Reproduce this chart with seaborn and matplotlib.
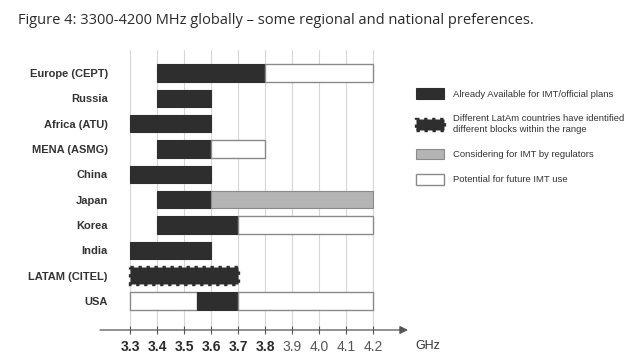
import matplotlib
matplotlib.use("Agg")
import matplotlib.pyplot as plt
from matplotlib.patches import Patch
import seaborn as sns
import pandas as pd

# ---- data ----
categories = ["Europe (CEPT)", "Russia", "Africa (ATU)", "MENA (ASMG)", "China",
              "Japan", "Korea", "India", "LATAM (CITEL)", "USA"]
seg_country = ["Europe (CEPT)", "Europe (CEPT)", "Russia", "Africa (ATU)", "MENA (ASMG)",
               "MENA (ASMG)", "China", "Japan", "Japan", "Korea", "Korea", "India",
               "LATAM (CITEL)", "USA", "USA", "USA"]
seg_start = [3.4, 3.8, 3.4, 3.3, 3.4, 3.6, 3.3, 3.4, 3.6, 3.4, 3.7, 3.3, 3.3, 3.3, 3.55, 3.7]
seg_end   = [3.8, 4.2, 3.6, 3.6, 3.6, 3.8, 3.6, 3.6, 4.2, 3.7, 4.2, 3.6, 3.7, 3.55, 3.7, 4.2]
seg_status = ["avail", "future", "avail", "avail", "avail", "future", "avail", "avail",
              "consider", "avail", "future", "avail", "latam", "future", "avail", "future"]
tick_values = [3.3, 3.4, 3.5, 3.6, 3.7, 3.8, 3.9, 4.0, 4.1, 4.2]
tick_labels = ["3.3", "3.4", "3.5", "3.6", "3.7", "3.8", "3.9", "4.0", "4.1", "4.2"]
bold_ticks = ["3.3", "3.4", "3.5", "3.6", "3.7", "3.8"]
legend_labels = {
    "avail": "Already Available for IMT/official plans",
    "latam": "Different LatAm countries have identified\ndifferent blocks within the range",
    "consider": "Considering for IMT by regulators",
    "future": "Potential for future IMT use",
}
title = "Figure 4: 3300-4200 MHz globally \u2013 some regional and national preferences."

df = pd.DataFrame({"country": seg_country, "start": seg_start, "end": seg_end,
                   "status": seg_status})
df["row"] = df["country"].map({c: i for i, c in enumerate(categories)})

styles = {
    "avail": dict(facecolor="#2e2e2e", edgecolor="#2e2e2e", linewidth=0.8),
    "latam": dict(facecolor="#2e2e2e", edgecolor="#2e2e2e", linewidth=2.4,
                  linestyle=(0, (1, 1.4))),
    "consider": dict(facecolor="#b4b4b4", edgecolor="#8a8a8a", linewidth=0.8),
    "future": dict(facecolor="#ffffff", edgecolor="#8a8a8a", linewidth=1.0),
}

sns.set_theme(style="white")
plt.rcParams["font.family"] = ["Liberation Sans", "DejaVu Sans"]

W, H = 640, 360
fig = plt.figure(figsize=(6.4, 3.6), dpi=100)
# axes: left edge at px 112, right at 408, bottom at 330, top at 50
ax = fig.add_axes([112 / W, 30 / H, 296 / W, 280 / H])
px_per_unit = 270.0
x_left = 3.3 - (130 - 112) / px_per_unit
x_right = 4.2 + (408 - 373) / px_per_unit
ax.set_xlim(x_left, x_right)
row_h = 25.33
ax.set_ylim(9 + (330 - 301) / row_h, 0 - (73 - 50) / row_h)

for _, r in df.iterrows():
    ax.barh(r["row"], r["end"] - r["start"], left=r["start"], height=0.68,
            zorder=3, **styles[r["status"]])

# grid
ax.set_xticks(tick_values)
ax.set_xticklabels(tick_labels)
ax.xaxis.grid(True, color="#d6d6d6", linewidth=0.8, zorder=0)
ax.yaxis.grid(False)
for s in ax.spines.values():
    s.set_visible(False)
ax.tick_params(axis="x", direction="inout", length=6, width=0.8, color="#555555",
               pad=4, labelsize=10, labelcolor="#333333", bottom=True)
for lab in ax.get_xticklabels():
    if lab.get_text() in bold_ticks:
        lab.set_fontweight("bold")
        lab.set_color("#2a2a2a")
    else:
        lab.set_color("#555555")

ax.set_yticks(range(len(categories)))
ax.set_yticklabels(categories)
ax.tick_params(axis="y", length=0, pad=3, labelsize=8, labelcolor="#333333")
for lab in ax.get_yticklabels():
    lab.set_fontweight("bold")

# axis arrow
ax.annotate("", xy=(1.0, 0.0), xycoords="axes fraction",
            xytext=(-(112 - 100) / 296, 0.0), textcoords="axes fraction",
            arrowprops=dict(arrowstyle="-|>", color="#555555", lw=0.9,
                            mutation_scale=12, shrinkA=0, shrinkB=0),
            annotation_clip=False)

fig.text(415 / W, 1 - 346 / H, "GHz", fontsize=9, color="#333333", va="center", ha="left")

# legend
handles = [Patch(label=legend_labels[k], **styles[k]) for k in ["avail", "latam", "consider", "future"]]
leg = fig.legend(handles=handles, loc="upper left", bbox_to_anchor=(407 / W, 1 - 80 / H),
                 frameon=False, fontsize=6.8, handlelength=3.0, handleheight=1.4,
                 handletextpad=1.0, labelspacing=1.5, labelcolor="#333333")
for t in leg.get_texts():
    t.set_linespacing(1.4)

fig.text(18 / W, 1 - 20 / H, title, fontsize=10.5, color="#2b2b2b",
         family=["Open Sans", "DejaVu Sans"], va="center", ha="left")

fig.savefig("out.png", dpi=100, facecolor="white")
